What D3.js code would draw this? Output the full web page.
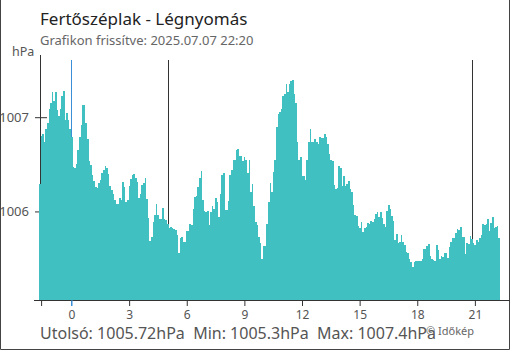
<!DOCTYPE html>
<html>
<head>
<meta charset="utf-8">
<script src="https://cdn.jsdelivr.net/npm/d3@7/dist/d3.min.js"></script>
<style>
  html, body { margin: 0; padding: 0; background: #fff; }
  svg { display: block; }
  text { font-family: "Noto Sans", "Open Sans", sans-serif; }
</style>
</head>
<body>
<svg id="chart" width="510" height="350"></svg>
<script>
// ---- data (5-minute pressure readings, hPa), first at 22:25 previous day, last at 22:20 ----
const startMinute = -95;       // minutes relative to midnight of the chart day
const stepMinutes = 5;
const pressure = [
  1006.29, 1006.80, 1006.82, 1006.74, 1006.88,
  1006.94, 1007.09, 1007.15, 1007.27, 1007.17,
  1007.27, 1007.08, 1007.01, 1007.09, 1007.23,
  1007.28, 1006.97, 1007.04, 1006.97, 1006.88,
  1006.79, 1006.47, 1006.46, 1006.50, 1006.65,
  1006.79, 1006.92, 1007.13, 1007.13, 1006.94,
  1006.77, 1006.53, 1006.49, 1006.39, 1006.32,
  1006.26, 1006.25, 1006.30, 1006.33, 1006.41,
  1006.44, 1006.48, 1006.46, 1006.40, 1006.27,
  1006.23, 1006.19, 1006.12, 1006.08, 1006.08,
  1006.14, 1006.12, 1006.31, 1006.26, 1006.10,
  1006.12, 1006.27, 1006.34, 1006.39, 1006.40,
  1006.35, 1006.31, 1006.14, 1006.18, 1006.28,
  1006.30, 1006.35, 1006.13, 1005.93, 1005.69,
  1005.73, 1005.89, 1005.96, 1006.08, 1005.96,
  1005.92, 1005.92, 1006.04, 1005.92, 1005.91,
  1005.87, 1005.82, 1005.83, 1005.82, 1005.81,
  1005.80, 1005.75, 1005.56, 1005.72, 1005.73,
  1005.68, 1005.68, 1005.79, 1005.79, 1005.87,
  1005.86, 1006.03, 1006.15, 1006.16, 1006.26,
  1006.36, 1006.43, 1006.12, 1006.00, 1005.99,
  1006.00, 1005.86, 1005.99, 1006.06, 1006.03,
  1006.14, 1006.10, 1005.94, 1006.18, 1006.39,
  1006.41, 1006.02, 1006.02, 1006.11, 1006.39,
  1006.44, 1006.55, 1006.55, 1006.65, 1006.66,
  1006.59, 1006.59, 1006.54, 1006.58, 1006.55,
  1006.41, 1006.55, 1006.21, 1006.29, 1006.06,
  1005.89, 1005.86, 1005.73, 1005.66, 1005.50,
  1005.63, 1005.63, 1005.87, 1006.10, 1006.30,
  1006.21, 1006.42, 1006.55, 1006.90, 1007.03,
  1007.05, 1007.09, 1007.23, 1007.25, 1007.35,
  1007.27, 1007.35, 1007.38, 1007.40, 1007.25,
  1007.15, 1006.74, 1006.55, 1006.58, 1006.38,
  1006.38, 1006.33, 1006.55, 1006.74, 1006.88,
  1006.74, 1006.74, 1006.77, 1006.74, 1006.72,
  1006.79, 1006.78, 1006.78, 1006.82, 1006.79,
  1006.72, 1006.61, 1006.55, 1006.53, 1006.28,
  1006.24, 1006.25, 1006.48, 1006.46, 1006.27,
  1006.38, 1006.27, 1006.29, 1006.32, 1006.24,
  1006.21, 1006.07, 1005.96, 1005.95, 1005.85,
  1005.82, 1005.89, 1005.78, 1005.82, 1005.84,
  1005.88, 1005.87, 1005.90, 1005.89, 1005.92,
  1005.97, 1005.99, 1005.94, 1005.99, 1005.93,
  1005.87, 1005.84, 1006.00, 1006.07, 1006.03,
  1005.95, 1005.90, 1005.70, 1005.76, 1005.67,
  1005.68, 1005.75, 1005.68, 1005.64, 1005.57,
  1005.56, 1005.49, 1005.46, 1005.41, 1005.46,
  1005.47, 1005.47, 1005.47, 1005.47, 1005.50,
  1005.60, 1005.60, 1005.63, 1005.65, 1005.53,
  1005.50, 1005.48, 1005.47, 1005.64, 1005.59,
  1005.49, 1005.53, 1005.52, 1005.56, 1005.56,
  1005.51, 1005.62, 1005.68, 1005.72, 1005.72,
  1005.77, 1005.81, 1005.80, 1005.84, 1005.73,
  1005.73, 1005.55, 1005.67, 1005.65, 1005.74,
  1005.71, 1005.67, 1005.64, 1005.70, 1005.68,
  1005.72, 1005.75, 1005.87, 1005.86, 1005.87,
  1005.92, 1005.79, 1005.88, 1005.94, 1005.82,
  1005.84, 1005.85, 1005.72
];
const xTickHours = [0, 3, 6, 9, 12, 15, 18, 21];
const xTickLabels = ["0", "3", "6", "9", "12", "15", "18", "21"];
const yTickValues = [1006, 1007];
const yTickLabels = ["1006", "1007"];
const yDomain = [1005.06, 1007.66];
const midnightMinute = [0];                 // day boundary (blue line)
const sunMinutes = [302, 1253];             // sunrise 5:02, sunset 20:53
const titleText = "Fertőszéplak - Légnyomás";
const subtitleText = "Grafikon frissítve: 2025.07.07 22:20";
const unitText = "hPa";
const statsText = "Utolsó: 1005.72hPa  Min: 1005.3hPa  Max: 1007.4hPa";
const creditText = "© Időkép";

// ---- layout ----
const W = 510, H = 350;
const plot = { left: 39, right: 500, top: 55, bottom: 300 };
const barColor = "#41c0c1";
const axisColor = "#333";

const svg = d3.select("#chart");

const domainStart = startMinute - stepMinutes;
const domainEnd = startMinute + stepMinutes * (pressure.length - 1);
const x = d3.scaleLinear().domain([domainStart, domainEnd]).range([plot.left, plot.right]);
const y = d3.scaleLinear().domain(yDomain).range([plot.bottom, plot.top]);

const data = pressure.map((v, i) => ({ t: startMinute + i * stepMinutes, v }));

// frame (left, right, bottom)
svg.append("path")
  .attr("d", `M0.5,0 V${H - 0.5} H${W - 0.5} V0`)
  .attr("fill", "none").attr("stroke", "#444").attr("stroke-width", 1);

// y axis line
svg.append("line")
  .attr("x1", 40.5).attr("x2", 40.5).attr("y1", plot.top).attr("y2", plot.bottom)
  .attr("stroke", axisColor).attr("stroke-width", 1);

// y ticks
const yAxis = d3.axisLeft(y).tickValues(yTickValues)
  .tickFormat((d, i) => yTickLabels[i]).tickSizeInner(5).tickSizeOuter(0).tickPadding(6);
const gy = svg.append("g").attr("transform", "translate(40,0)").call(yAxis);
gy.select(".domain").remove();
gy.selectAll(".tick line").attr("x1", 7).attr("x2", -5).attr("stroke", axisColor);
gy.selectAll(".tick text").attr("fill", "#555").style("font-size", "13px")
  .style("font-family", "'Noto Sans', sans-serif");

// vertical marker lines (behind bars)
svg.selectAll(".sun").data(sunMinutes).enter().append("line")
  .attr("x1", d => Math.round(x(d)) + 0.5).attr("x2", d => Math.round(x(d)) + 0.5)
  .attr("y1", 60).attr("y2", plot.bottom)
  .attr("stroke", "#333").attr("stroke-width", 1);
svg.selectAll(".mid").data(midnightMinute).enter().append("line")
  .attr("x1", d => Math.round(x(d)) + 0.5).attr("x2", d => Math.round(x(d)) + 0.5)
  .attr("y1", 60).attr("y2", plot.bottom + 6)
  .attr("stroke", "#3a8fd6").attr("stroke-width", 1);

// bars
svg.append("g").attr("shape-rendering", "crispEdges")
  .selectAll("rect").data(data).enter().append("rect")
  .attr("x", d => x(d.t - stepMinutes))
  .attr("width", d => x(d.t) - x(d.t - stepMinutes))
  .attr("y", d => y(d.v))
  .attr("height", d => plot.bottom - y(d.v))
  .attr("fill", barColor);

// x axis
svg.append("line")
  .attr("x1", 34).attr("x2", W).attr("y1", plot.bottom + 0.5).attr("y2", plot.bottom + 0.5)
  .attr("stroke", axisColor).attr("stroke-width", 1);
const xAxis = d3.axisBottom(x)
  .tickValues([domainStart + 5].concat(xTickHours.map(h => h * 60)))
  .tickFormat(d => { const i = xTickHours.indexOf(d / 60); return i >= 0 ? xTickLabels[i] : ""; })
  .tickSizeInner(6).tickSizeOuter(0).tickPadding(4);
const gx = svg.append("g").attr("transform", `translate(0.5,${plot.bottom})`).call(xAxis);
gx.select(".domain").remove();
gx.selectAll(".tick line").attr("stroke", d => d === 0 ? "#3a8fd6" : axisColor);
gx.selectAll(".tick text").attr("fill", "#555").style("font-size", "12px")
  .style("font-family", "'Noto Sans', sans-serif");

// texts
svg.append("text").attr("x", 40).attr("y", 25).text(titleText)
  .attr("fill", "#222").style("font-size", "17px");
svg.append("text").attr("x", 40).attr("y", 45).text(subtitleText)
  .attr("fill", "#666").style("font-size", "13px");
svg.append("text").attr("x", 12).attr("y", 56).text(unitText)
  .attr("fill", "#555").style("font-size", "12.5px");
svg.append("text").attr("x", 40).attr("y", 339).text(statsText)
  .attr("fill", "#555").style("font-size", "16px").style("white-space", "pre");
svg.append("text").attr("x", 426).attr("y", 335).text(creditText)
  .attr("fill", "#666").style("font-size", "11px");
</script>
</body>
</html>
